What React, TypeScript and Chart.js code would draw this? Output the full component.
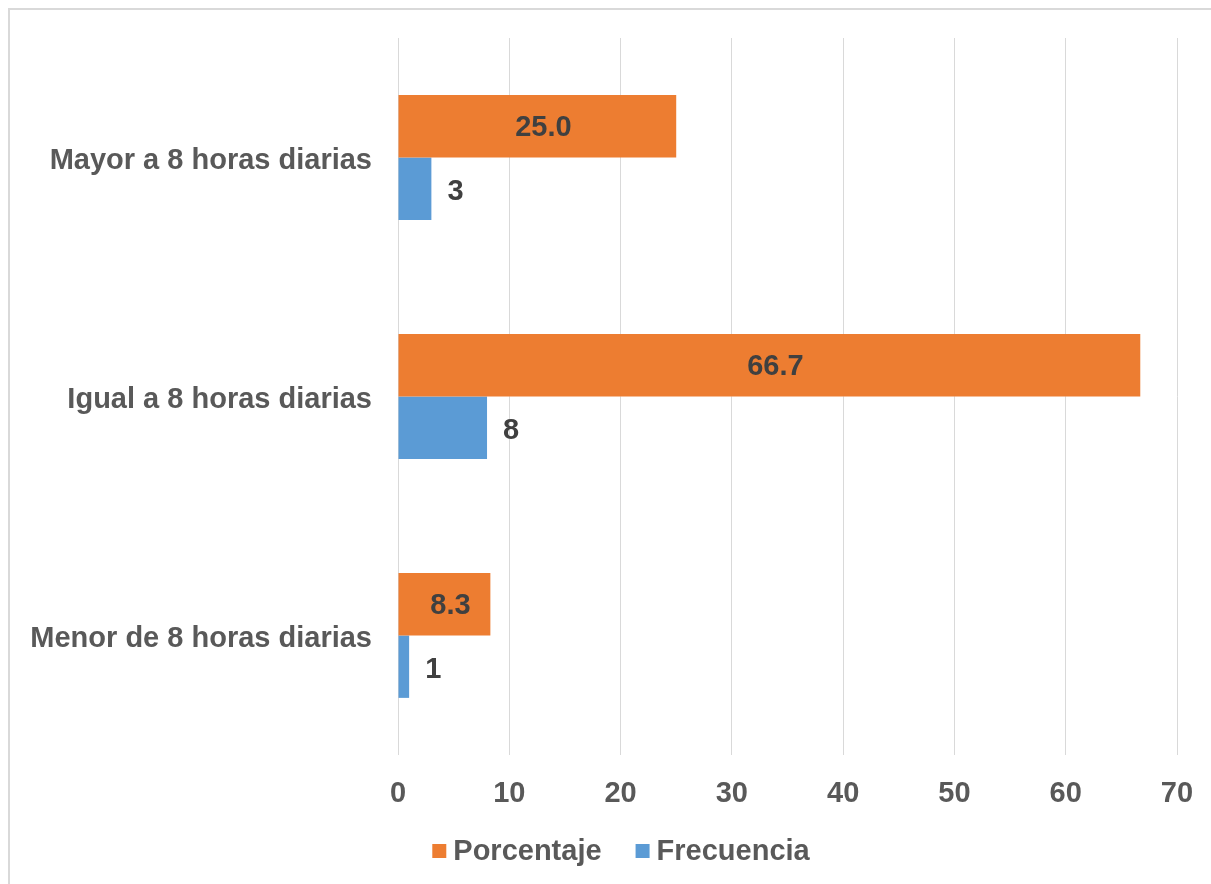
import React, { useEffect, useRef } from "react";
import { Chart, registerables } from "chart.js";

Chart.register(...registerables);

const categories = [
  "Mayor a 8 horas diarias",
  "Igual a 8 horas diarias",
  "Menor de 8 horas diarias",
];
const porcentaje = [25.0, 66.7, 8.3];
const frecuencia = [3, 8, 1];
const xTicks = [0, 10, 20, 30, 40, 50, 60, 70];

const FONT = "'Liberation Sans', Arial, sans-serif";
const TEXT = "#595959";
const FS = 29;

const borderPlugin = {
  id: "frameBorder",
  beforeDraw(chart: any) {
    const ctx = chart.ctx;
    ctx.save();
    ctx.fillStyle = "#ffffff";
    ctx.fillRect(0, 0, chart.width, chart.height);
    ctx.strokeStyle = "#d9d9d9";
    ctx.lineWidth = 2;
    ctx.strokeRect(9, 9, chart.width + 20, chart.height + 20);
    ctx.restore();
  },
};

const labelPlugin = {
  id: "valueLabels",
  afterDatasetsDraw(chart: any) {
    const ctx = chart.ctx;
    ctx.save();
    ctx.font = `bold ${FS}px ${FONT}`;
    ctx.fillStyle = "#404040";
    ctx.textBaseline = "middle";
    chart.data.datasets.forEach((ds: any, di: number) => {
      const meta = chart.getDatasetMeta(di);
      meta.data.forEach((bar: any, i: number) => {
        const v = ds.data[i];
        if (di === 0) {
          ctx.textAlign = "center";
          ctx.fillText(v.toFixed(1), (bar.x + bar.base) / 2 + 6, bar.y + 2);
        } else {
          ctx.textAlign = "left";
          ctx.fillText(String(v), bar.x + 16, bar.y + 3);
        }
      });
    });
    ctx.restore();
  },
};

const legendPlugin = {
  id: "customLegend",
  afterDraw(chart: any) {
    const ctx = chart.ctx;
    ctx.save();
    ctx.font = `bold ${FS}px ${FONT}`;
    ctx.textBaseline = "middle";
    ctx.textAlign = "left";
    const items = chart.data.datasets.map((ds: any) => ({
      text: ds.label,
      color: ds.backgroundColor,
      w: ctx.measureText(ds.label).width,
    }));
    const box = 14;
    const gapBox = 7;
    const gapItem = 34;
    let total = 0;
    items.forEach((it: any, i: number) => {
      total += box + gapBox + it.w + (i < items.length - 1 ? gapItem : 0);
    });
    let x = 621 - total / 2;
    const y = chart.height - 33;
    items.forEach((it: any) => {
      ctx.fillStyle = it.color;
      ctx.fillRect(x, y - box / 2, box, box);
      x += box + gapBox;
      ctx.fillStyle = TEXT;
      ctx.fillText(it.text, x, y + 1);
      x += it.w + gapItem;
    });
    ctx.restore();
  },
};

export default function App() {
  const ref = useRef<HTMLCanvasElement>(null);
  useEffect(() => {
    if (!ref.current) return;
    const chart = new Chart(ref.current, {
      type: "bar",
      data: {
        labels: categories,
        datasets: [
          {
            label: "Porcentaje",
            data: porcentaje,
            backgroundColor: "#ED7D31",
            categoryPercentage: 0.522,
            barPercentage: 1,
          },
          {
            label: "Frecuencia",
            data: frecuencia,
            backgroundColor: "#5B9BD5",
            categoryPercentage: 0.522,
            barPercentage: 1,
          },
        ],
      },
      options: {
        indexAxis: "y",
        animation: false,
        responsive: false,
        maintainAspectRatio: false,
        layout: { padding: { left: 10, right: 34, top: 38, bottom: 73 } },
        scales: {
          x: {
            min: 0,
            max: 70,
            afterBuildTicks(axis: any) {
              axis.ticks = xTicks.map((v) => ({ value: v }));
            },
            afterFit(axis: any) {
              axis.height = 56;
              axis.paddingLeft = 0;
              axis.paddingRight = 0;
            },
            grid: { color: "#d9d9d9", lineWidth: 1, drawTicks: false },
            border: { display: false },
            ticks: {
              color: TEXT,
              font: { family: FONT, size: FS, weight: "bold" },
              padding: 22,
            },
          },
          y: {
            grid: { display: false, drawTicks: false },
            border: { display: false },
            afterFit(axis: any) {
              axis.width = 388;
              axis.paddingTop = 0;
              axis.paddingBottom = 0;
            },
            ticks: {
              color: TEXT,
              font: { family: FONT, size: FS, weight: "bold" },
              padding: 26,
              labelOffset: 3,
            },
          },
        },
        plugins: {
          legend: { display: false },
          tooltip: { enabled: false },
        },
      },
      plugins: [borderPlugin, labelPlugin, legendPlugin],
    });
    return () => chart.destroy();
  }, []);
  return (
    <div style={{ position: "fixed", left: 0, top: 0, width: 1211, height: 884, background: "#fff" }}>
      <canvas ref={ref} width={1211} height={884} style={{ display: "block" }} />
    </div>
  );
}
